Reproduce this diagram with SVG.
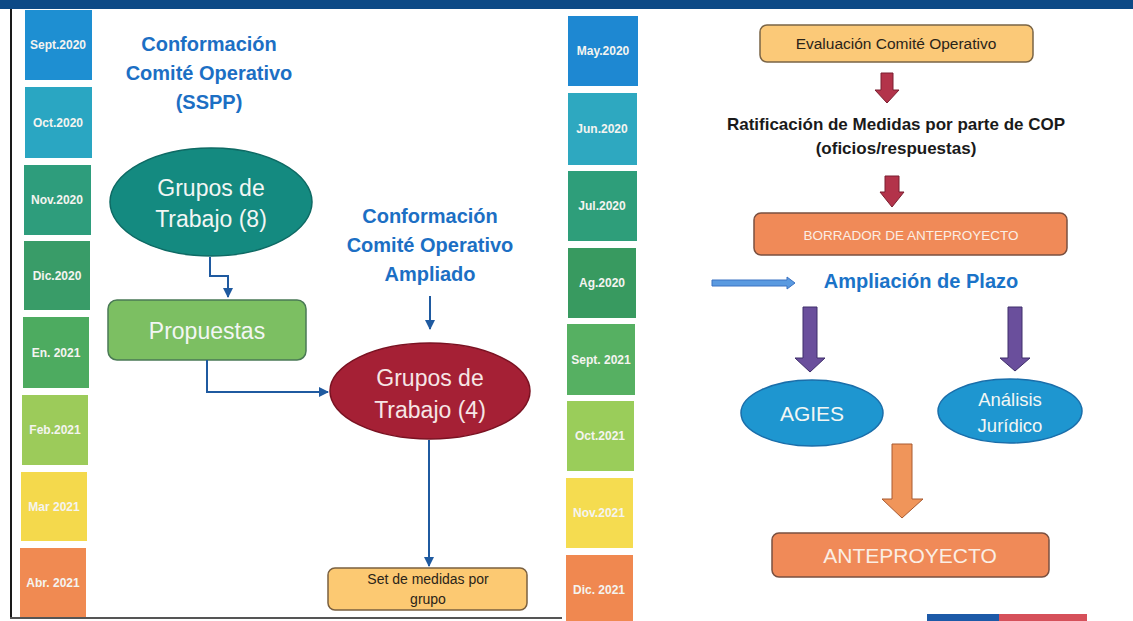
<svg xmlns="http://www.w3.org/2000/svg" width="1133" height="621" viewBox="0 0 1133 621">
<defs>
<style>
.m{font-family:"Liberation Sans",Arial,sans-serif;font-size:12px;font-weight:bold;fill:#f4f4f0;text-anchor:middle}
.t{font-family:"Liberation Sans",Arial,sans-serif;font-size:20px;font-weight:bold;fill:#1c6fc4;text-anchor:middle}
.w{font-family:"Liberation Sans",Arial,sans-serif;fill:#f2f6f4;text-anchor:middle}
.d{font-family:"Liberation Sans",Arial,sans-serif;fill:#2a2418;text-anchor:middle}
.c{fill:none;stroke:#1f5aa0;stroke-width:2}
</style>
<marker id="ah" viewBox="0 0 10 10" refX="9" refY="5" markerWidth="5" markerHeight="5" orient="auto">
<path d="M0,0 L10,5 L0,10 z" fill="#1f5aa0"/>
</marker>
</defs>
<rect x="0" y="0" width="1133" height="621" fill="#ffffff"/>
<rect x="0" y="0" width="1133" height="9" fill="#0d4a86"/>
<rect x="10" y="9" width="2" height="610" fill="#1a1a1a"/>
<rect x="10" y="617" width="552" height="2" fill="#555555"/>
<rect x="927" y="614" width="72" height="7" fill="#1d5aa8"/>
<rect x="999" y="614" width="88" height="7" fill="#d6505a"/>

<g id="months-left">
<rect x="25" y="10" width="67" height="70" fill="#1e8fd2"/><text class="m" x="58" y="49">Sept.2020</text>
<rect x="25" y="87" width="67" height="71" fill="#2aa6c2"/><text class="m" x="58" y="127">Oct.2020</text>
<rect x="24" y="165" width="67" height="70" fill="#2e9d7c"/><text class="m" x="57" y="204">Nov.2020</text>
<rect x="24" y="241" width="66" height="69" fill="#399c68"/><text class="m" x="57" y="280">Dic.2020</text>
<rect x="23" y="317" width="66" height="71" fill="#4dab60"/><text class="m" x="56" y="357">En. 2021</text>
<rect x="22" y="395" width="66" height="70" fill="#9ccb5a"/><text class="m" x="55" y="434">Feb.2021</text>
<rect x="21" y="472" width="66" height="69" fill="#f4d94c"/><text class="m" x="54" y="511">Mar 2021</text>
<rect x="20" y="548" width="66" height="69" fill="#f08a52"/><text class="m" x="53" y="587">Abr. 2021</text>
</g>

<g id="months-mid">
<rect x="568" y="16" width="70" height="70" fill="#1e88d2"/><text class="m" x="603" y="55">May.2020</text>
<rect x="568" y="93" width="69" height="72" fill="#2ea8c0"/><text class="m" x="602" y="133">Jun.2020</text>
<rect x="568" y="171" width="69" height="70" fill="#2e9e7a"/><text class="m" x="602" y="210">Jul.2020</text>
<rect x="568" y="248" width="68" height="70" fill="#389a60"/><text class="m" x="602" y="287">Ag.2020</text>
<rect x="567" y="324" width="68" height="71" fill="#56b062"/><text class="m" x="601" y="364">Sept. 2021</text>
<rect x="567" y="401" width="67" height="70" fill="#9acd5a"/><text class="m" x="600" y="440">Oct.2021</text>
<rect x="566" y="478" width="67" height="70" fill="#f5dc50"/><text class="m" x="599" y="517">Nov.2021</text>
<rect x="566" y="555" width="67" height="66" fill="#f08850"/><text class="m" x="599" y="594">Dic. 2021</text>
</g>

<g id="title-sspp">
<text class="t" x="209" y="51">Conformación</text>
<text class="t" x="209" y="80">Comité Operativo</text>
<text class="t" x="209" y="109">(SSPP)</text>
</g>

<g id="grupos8">
<ellipse cx="211" cy="202" rx="101" ry="54" fill="#148a80" stroke="#0e6a64" stroke-width="1.5"/>
<text class="w" x="211" y="196" font-size="23">Grupos de</text>
<text class="w" x="211" y="227" font-size="23">Trabajo (8)</text>
</g>

<g id="propuestas">
<rect x="108" y="300" width="198" height="60" rx="9" fill="#7cbf62" stroke="#4a7a55" stroke-width="1.5"/>
<text class="w" x="207" y="339" font-size="23">Propuestas</text>
</g>

<g id="title-ampliado">
<text class="t" x="430" y="223">Conformación</text>
<text class="t" x="430" y="252">Comité Operativo</text>
<text class="t" x="430" y="281">Ampliado</text>
</g>

<g id="grupos4">
<ellipse cx="430" cy="391" rx="100" ry="48" fill="#a52035" stroke="#7a1222" stroke-width="1.5"/>
<text class="w" x="430" y="386" font-size="23" style="fill:#f6e6e6">Grupos de</text>
<text class="w" x="430" y="418" font-size="23" style="fill:#f6e6e6">Trabajo (4)</text>
</g>

<g id="set-medidas">
<rect x="328" y="568" width="199" height="42" rx="7" fill="#fcc972" stroke="#7a6040" stroke-width="1.5"/>
<text class="d" x="428" y="584" font-size="14">Set de medidas por</text>
<text class="d" x="428" y="604" font-size="14">grupo</text>
</g>

<g id="evaluacion">
<rect x="760" y="25" width="273" height="37" rx="7" fill="#fbc978" stroke="#7a6445" stroke-width="1.5"/>
<text class="d" x="896" y="49" font-size="15.5">Evaluación Comité Operativo</text>
</g>

<g id="ratificacion">
<text class="d" x="896" y="130" font-size="17" font-weight="bold" style="fill:#1a1a1a">Ratificación de Medidas por parte de COP</text>
<text class="d" x="896" y="154" font-size="17" font-weight="bold" style="fill:#1a1a1a">(oficios/respuestas)</text>
</g>

<g id="borrador">
<rect x="754" y="213" width="313" height="42" rx="7" fill="#f08a58" stroke="#7a5040" stroke-width="1.5"/>
<text class="w" x="911" y="240" font-size="13.5" style="fill:#fbeee4">BORRADOR DE ANTEPROYECTO</text>
</g>

<g id="ampliacion-plazo">
<text class="t" x="921" y="288" style="fill:#1a73c8">Ampliación de Plazo</text>
</g>

<g id="agies">
<ellipse cx="812" cy="413" rx="71" ry="33" fill="#1e96d0" stroke="#1a6eaa" stroke-width="1.5"/>
<text class="w" x="812" y="421" font-size="21">AGIES</text>
</g>

<g id="analisis-juridico">
<ellipse cx="1010" cy="411" rx="72" ry="32" fill="#1e96d0" stroke="#1a6eaa" stroke-width="1.5"/>
<text class="w" x="1010" y="406" font-size="18.5">Análisis</text>
<text class="w" x="1010" y="432" font-size="18.5">Jurídico</text>
</g>

<g id="anteproyecto">
<rect x="772" y="533" width="277" height="44" rx="7" fill="#f08a58" stroke="#7a5040" stroke-width="1.5"/>
<text class="w" x="910" y="563" font-size="21" style="fill:#fbeee4">ANTEPROYECTO</text>
</g>

<g id="connectors">
<path class="c" d="M210,257 V276 H228 V297" marker-end="url(#ah)"/>
<path class="c" d="M207,360 V392 H328" marker-end="url(#ah)"/>
<path class="c" d="M430,296 V329" marker-end="url(#ah)"/>
<path class="c" d="M429,440 V566" marker-end="url(#ah)"/>
<path d="M881,73 H893 V90 H899 L887,103 L875,90 H881 Z" fill="#b3334a" stroke="#7a1f30" stroke-width="1"/>
<path d="M885,176 H899 V192 H904 L892,207 L880,192 H885 Z" fill="#b3334a" stroke="#7a1f30" stroke-width="1"/>
<path d="M712,280 H787 V277 L795,283 L787,289 V286 H712 Z" fill="#5a9ae0" stroke="#3a72c2" stroke-width="1"/>
<path d="M803,307 H817 V358 H825 L810,372 L795,358 H803 Z" fill="#6a4f9c" stroke="#3e2e6a" stroke-width="1"/>
<path d="M1008,307 H1022 V358 H1030 L1015,371 L1000,358 H1008 Z" fill="#6a4f9c" stroke="#3e2e6a" stroke-width="1"/>
<path d="M892,444 H912 V499 H923 L902,518 L882,499 H892 Z" fill="#f0955a" stroke="#a85a30" stroke-width="1"/>
</g>
</svg>
